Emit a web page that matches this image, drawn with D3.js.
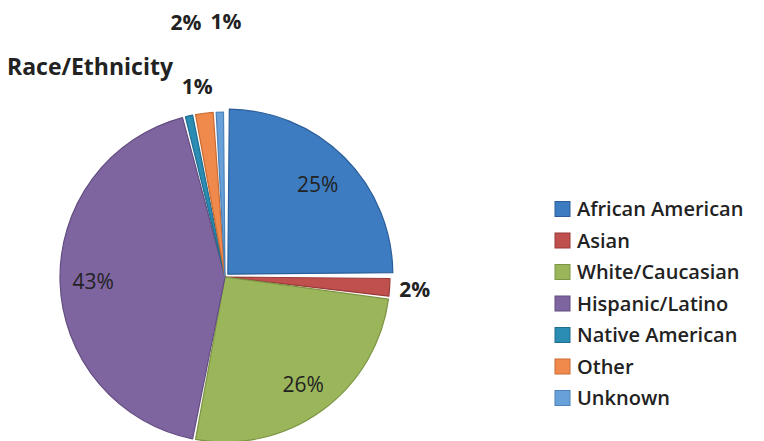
<!DOCTYPE html>
<html>
<head>
<meta charset="utf-8">
<script src="https://cdn.jsdelivr.net/npm/d3@7"></script>
<style>
  html, body { margin: 0; padding: 0; background: #fff; }
  svg { display: block; }
  text { font-family: "Open Sans", "DejaVu Sans", sans-serif; fill: #222; }
</style>
</head>
<body>
<svg id="chart" width="764" height="441"></svg>
<script>
// Race/Ethnicity breakdown (percent)
const categories = ["African American", "Asian", "White/Caucasian", "Hispanic/Latino",
                    "Native American", "Other", "Unknown"];
const values = [25, 2, 26, 43, 1, 2, 1];
const colors = ["#3d7cc1", "#c0504d", "#9bb65a", "#7f65a0", "#2b8cb4", "#f08a4c", "#68a1d9"];
const edgeColors = ["#2c5f9a", "#983b39", "#7c9443", "#624c80", "#1f6d8e", "#c96a33", "#4c82b8"];
// radial distance of each percentage label from the pie centre
const labelRadius = [131, 190, 133, 132, 193, 258, 256];
// angular nudge (degrees) so the small-slice labels do not collide
const labelShift = [0, 0, 0, 0, 4.3, -1.5, 2.0];
const labelWeight = [400, 700, 400, 400, 700, 700, 700];

const svg = d3.select("#chart");
const cx = 225, cy = 277, R = 165;

const pie = d3.pie().sort(null).value(d => d.value);
const arcs = pie(categories.map((c, i) => ({ name: c, value: values[i], i })));

const arc = d3.arc().innerRadius(0).outerRadius(R).padAngle(3 / R).padRadius(R);

const g = svg.append("g").attr("transform", `translate(${cx},${cy})`);

// slight pull-out of the first slice
const explode = [4, 0, 0, 0, 0, 0, 0];

g.selectAll("path.slice")
  .data(arcs)
  .join("path")
  .attr("class", "slice")
  .attr("transform", d => {
    const a = (d.startAngle + d.endAngle) / 2;
    const e = explode[d.data.i];
    return `translate(${e * Math.sin(a)},${-e * Math.cos(a)})`;
  })
  .attr("d", arc)
  .attr("fill", d => colors[d.data.i])
  .attr("stroke", d => edgeColors[d.data.i])
  .attr("stroke-width", 1.2)
  .attr("stroke-linejoin", "round");

// percentage labels
const labelAngle = d => (d.startAngle + d.endAngle) / 2 + labelShift[d.data.i] * Math.PI / 180;
g.selectAll("text.pct")
  .data(arcs)
  .join("text")
  .attr("class", "pct")
  .attr("x", d => labelRadius[d.data.i] * Math.sin(labelAngle(d)))
  .attr("y", d => -labelRadius[d.data.i] * Math.cos(labelAngle(d)))
  .attr("dy", "0.36em")
  .attr("text-anchor", "middle")
  .attr("font-size", 21)
  .attr("font-weight", d => labelWeight[d.data.i])
  .text(d => d.data.value + "%");

// title
svg.append("text")
  .attr("x", 7).attr("y", 75)
  .attr("font-size", 23)
  .attr("font-weight", 700)
  .text("Race/Ethnicity");

// legend
const legendY = d3.scalePoint().domain(categories).range([209, 398]);
const lg = svg.append("g");
const rows = lg.selectAll("g").data(categories).join("g")
  .attr("transform", d => `translate(555,${legendY(d)})`);
rows.append("rect")
  .attr("x", 0).attr("y", -7.5).attr("width", 15).attr("height", 15)
  .attr("fill", (d, i) => colors[i])
  .attr("stroke", (d, i) => edgeColors[i])
  .attr("stroke-width", 1);
rows.append("text")
  .attr("x", 22).attr("y", 0).attr("dy", "0.36em")
  .attr("font-size", 20)
  .attr("font-weight", 600)
  .text(d => d);
</script>
</body>
</html>
